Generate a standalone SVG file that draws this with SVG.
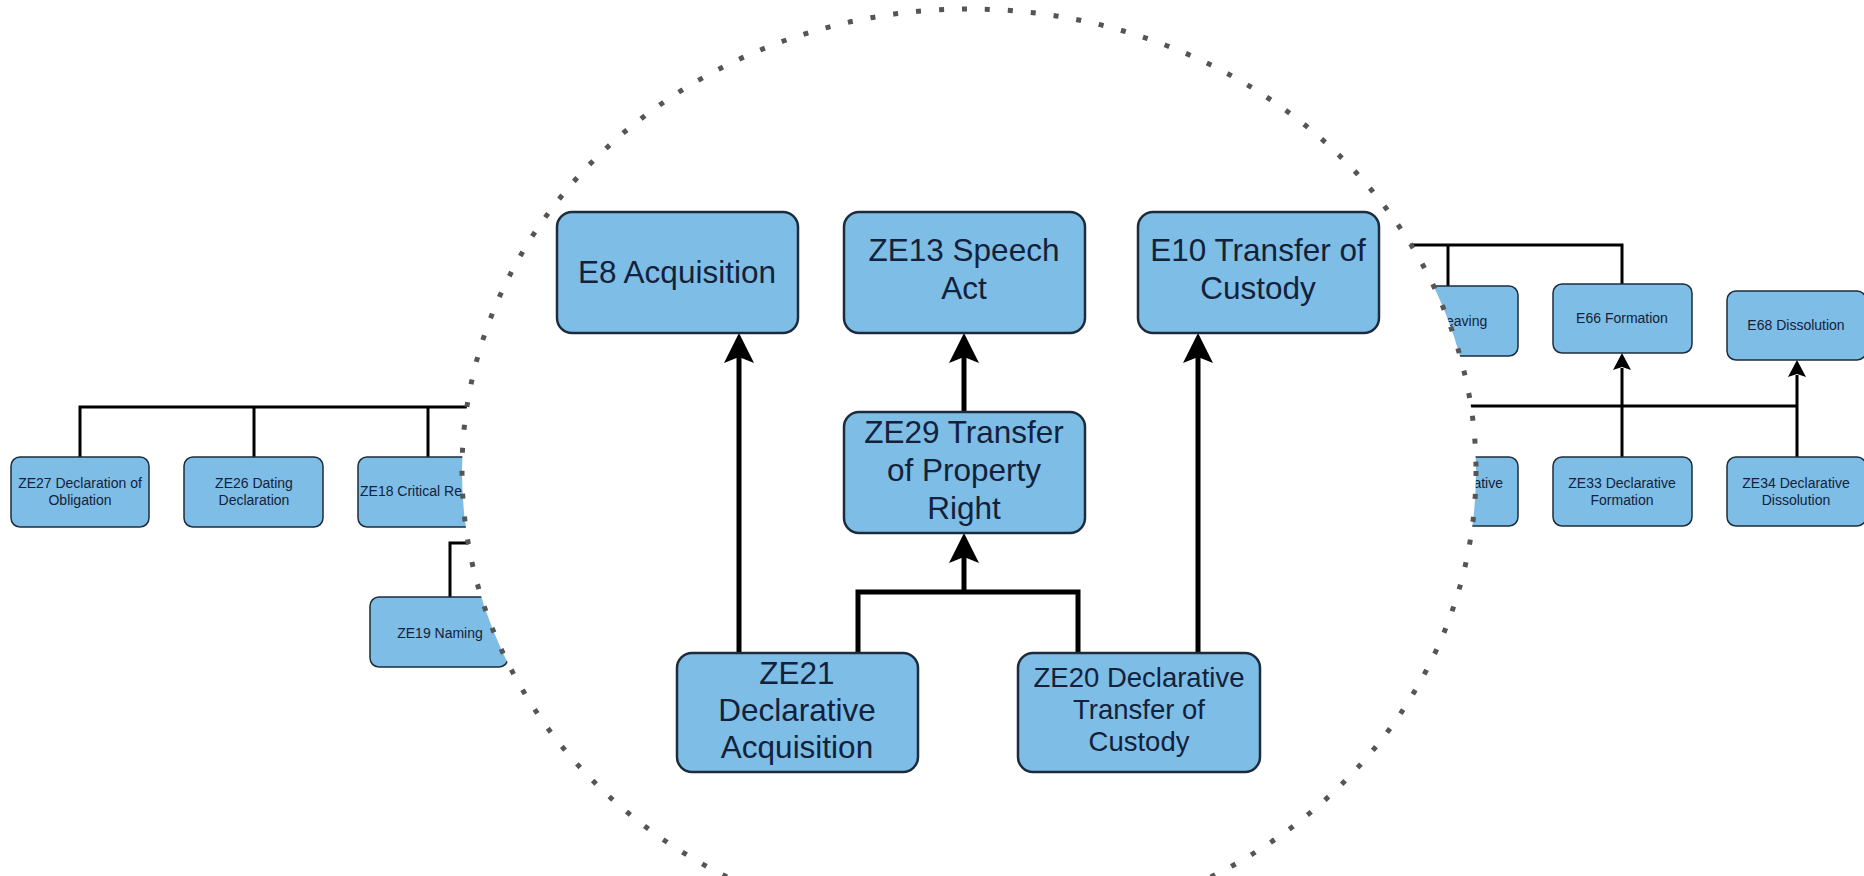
<svg xmlns="http://www.w3.org/2000/svg" xmlns:xlink="http://www.w3.org/1999/xlink" width="1864" height="876" viewBox="0 0 1864 876">
<style>
  .node rect { fill: #7ebde6; stroke: #1d2c3c; }
  .big rect { stroke-width: 2.5; }
  .small rect { stroke-width: 1.5; }
  text { font-family: "Liberation Sans", Arial, sans-serif; fill: #13223a; text-anchor: middle; }
  .big text { font-size: 31.5px; }
  .small text { font-size: 14px; }
  .wire { fill: none; stroke: #000; stroke-linejoin: miter; }
  .thin { stroke-width: 3; }
  .thick { stroke-width: 5; }
  .lens { fill: #fff; stroke: #555; stroke-width: 5; stroke-dasharray: 5 18; }
</style>
<defs>
  <path id="ah" d="M0,0 L-15,30 L0,24 L15,30 Z" fill="#000"/>
  <path id="ahs" d="M0,0 L-9,17 L0,14 L9,17 Z" fill="#000"/>
</defs>
<rect width="1864" height="876" fill="#fff"/>

<!-- background (unmagnified) connectors -->
<g id="bg-connectors" class="wire thin">
  <path d="M80,457 V407 H600"/>
  <path d="M254,407 V457"/>
  <path d="M428,407 V457"/>
  <path d="M450,597 V543 H560"/>
  <path d="M1300,245 H1622 V284"/>
  <path d="M1448,245 V286"/>
  <path d="M1300,406 H1797"/>
  <path d="M1622,457 V368"/>
  <path d="M1797,457 V375"/>
  <use href="#ahs" x="1622" y="353" stroke="none"/>
  <use href="#ahs" x="1797" y="360" stroke="none"/>
</g>

<!-- background (unmagnified) nodes -->
<g id="ZE27" class="node small"><rect x="11" y="457" width="138" height="70" rx="9"/><text x="80" y="488">ZE27 Declaration of</text><text x="80" y="505">Obligation</text></g>
<g id="ZE26" class="node small"><rect x="184" y="457" width="139" height="70" rx="9"/><text x="254" y="488">ZE26 Dating</text><text x="254" y="505">Declaration</text></g>
<g id="ZE18" class="node small"><rect x="358" y="457" width="138" height="70" rx="9"/><text x="360" y="496" style="text-anchor:start">ZE18 Critical Re</text></g>
<g id="ZE19" class="node small"><rect x="370" y="597" width="138" height="70" rx="9"/><text x="440" y="638">ZE19 Naming</text></g>
<g id="E86" class="node small"><rect x="1380" y="286" width="138" height="70" rx="9"/><text x="1446" y="326" style="text-anchor:start">eaving</text></g>
<g id="ZE32" class="node small"><rect x="1380" y="457" width="138" height="69" rx="9"/><text x="1503" y="488" style="text-anchor:end">ative</text></g>
<g id="E66" class="node small"><rect x="1553" y="284" width="139" height="69" rx="9"/><text x="1622" y="323">E66 Formation</text></g>
<g id="E68" class="node small"><rect x="1727" y="291" width="139" height="69" rx="9"/><text x="1796" y="330">E68 Dissolution</text></g>
<g id="ZE33" class="node small"><rect x="1553" y="457" width="139" height="69" rx="9"/><text x="1622" y="488">ZE33 Declarative</text><text x="1622" y="505">Formation</text></g>
<g id="ZE34" class="node small"><rect x="1727" y="457" width="139" height="69" rx="9"/><text x="1796" y="488">ZE34 Declarative</text><text x="1796" y="505">Dissolution</text></g>

<!-- magnifier lens -->
<ellipse id="lens" class="lens" cx="969" cy="471" rx="507" ry="462"/>

<!-- magnified connectors -->
<g id="connectors" class="wire thick">
  <path d="M739,653 V352"/>
  <path d="M964,412 V352"/>
  <path d="M1198,653 V352"/>
  <path d="M858,653 V592 H1078 V653"/>
  <path d="M964,592 V552"/>
  <use href="#ah" x="739" y="333" stroke="none"/>
  <use href="#ah" x="964" y="333" stroke="none"/>
  <use href="#ah" x="1198" y="333" stroke="none"/>
  <use href="#ah" x="964" y="533" stroke="none"/>
</g>

<!-- magnified nodes -->
<g id="E8" class="node big"><rect x="557" y="212" width="241" height="121" rx="15"/><text x="677" y="283">E8 Acquisition</text></g>
<g id="ZE13" class="node big"><rect x="844" y="212" width="241" height="121" rx="15"/><text x="964" y="261">ZE13 Speech</text><text x="964" y="299">Act</text></g>
<g id="E10" class="node big"><rect x="1138" y="212" width="241" height="121" rx="15"/><text x="1258" y="261">E10 Transfer of</text><text x="1258" y="299">Custody</text></g>
<g id="ZE29" class="node big"><rect x="844" y="412" width="241" height="121" rx="15"/><text x="964" y="443">ZE29 Transfer</text><text x="964" y="481">of Property</text><text x="964" y="519">Right</text></g>
<g id="ZE21" class="node big"><rect x="677" y="653" width="241" height="119" rx="15"/><text x="797" y="684">ZE21</text><text x="797" y="721">Declarative</text><text x="797" y="758">Acquisition</text></g>
<g id="ZE20" class="node big"><rect x="1018" y="653" width="242" height="119" rx="15"/><text x="1139" y="687" style="font-size:27.5px">ZE20 Declarative</text><text x="1139" y="719" style="font-size:27.5px">Transfer of</text><text x="1139" y="751" style="font-size:27.5px">Custody</text></g>
</svg>
